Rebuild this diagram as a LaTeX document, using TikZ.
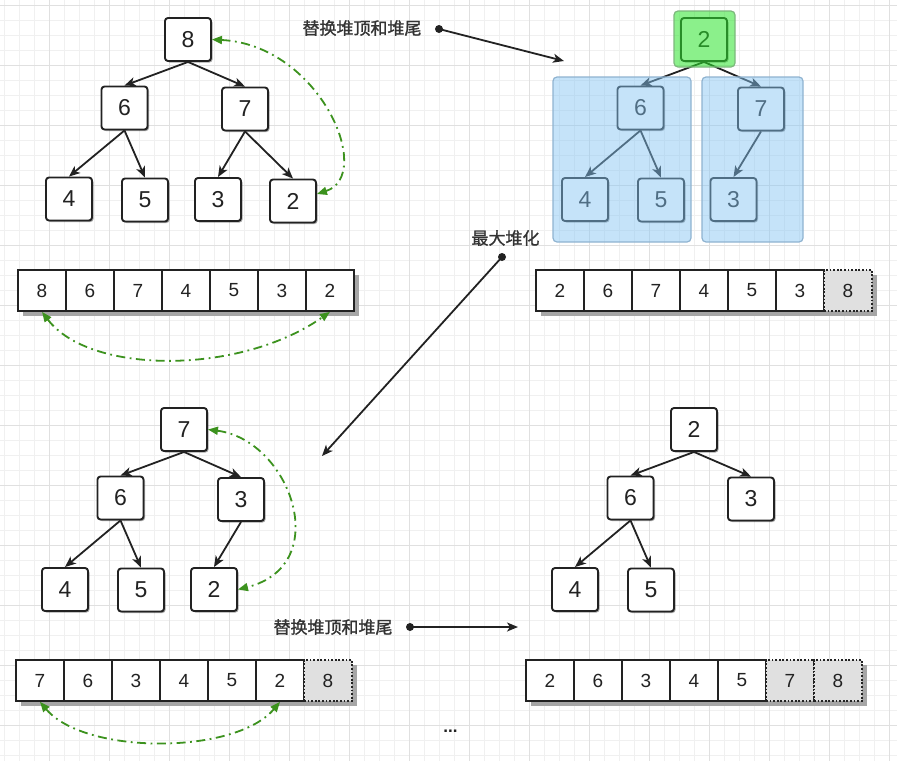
\documentclass[tikz,border=0pt]{standalone}
\usepackage{fontspec}
\setmainfont{Liberation Sans}
\newfontfamily\cjk[AutoFakeBold=1.2]{Noto Sans CJK SC}
\usetikzlibrary{shadows,arrows.meta}
\definecolor{ink}{HTML}{222222}
\definecolor{lblink}{HTML}{333333}
\definecolor{gline}{HTML}{3C921E}
\definecolor{minorgrid}{HTML}{F0F0F0}
\definecolor{majorgrid}{HTML}{E0E0E0}
\definecolor{cellgray}{HTML}{E0E0E0}
\definecolor{shadowgray}{HTML}{A6A6A6}
\definecolor{blueov}{RGB}{133,197,244}
\definecolor{blueedge}{HTML}{8FB3D0}
\definecolor{greenov}{RGB}{45,228,45}
\definecolor{greenedge}{HTML}{7DB87D}
\begin{document}
\begin{tikzpicture}[x=1pt,y=-1pt,
 tnode/.style={rectangle, rounded corners=3pt, draw=ink, line width=1.9pt, fill=white,
   minimum width=46pt, minimum height=43pt, inner sep=0pt, text=ink,
   font=\fontsize{23}{26}\selectfont,
   drop shadow={shadow xshift=1.5pt, shadow yshift=-1.5pt, opacity=0.35, fill=black}},
 acell/.style={rectangle, draw=ink, line width=1.8pt, fill=white, minimum width=48pt,
   minimum height=41pt, inner sep=0pt, text=ink, font=\fontsize{19}{22}\selectfont},
 gcell/.style={acell, fill=cellgray, dash pattern=on 1.8pt off 1.8pt},
 edge/.style={draw=ink, line width=1.8pt, -{Stealth[length=11pt,width=9pt,inset=3pt]}},
 swap/.style={draw=gline, line width=1.8pt, dash pattern=on 9pt off 4.5pt on 1.8pt off 4.5pt,
   {Triangle[length=10pt,width=8pt]}-{Triangle[length=10pt,width=8pt]}},
 lbl/.style={text=lblink, font=\cjk\bfseries\fontsize{17}{20}\selectfont, inner sep=0pt},
 dot/.style={circle, fill=ink, minimum size=8pt, inner sep=0pt},
 shad/.style={fill=shadowgray},
 ]
\useasboundingbox (0,0) rectangle (897,761);
\fill[white] (0,0) rectangle (897,761);
% grid
\foreach \x in {4,19,...,897} \draw[minorgrid, line width=1pt] (\x,0) -- (\x,761);
\foreach \y in {5,20,...,761} \draw[minorgrid, line width=1pt] (0,\y) -- (897,\y);
\foreach \x in {49,109,...,897} \draw[majorgrid, line width=1pt] (\x,0) -- (\x,761);
\foreach \y in {5,65,...,761} \draw[majorgrid, line width=1pt] (0,\y) -- (897,\y);

% ---------- top-left tree ----------
\node[tnode] (n8) at (188,39.5) {8};
\node[tnode] (n6) at (124.5,108) {6};
\node[tnode] (n7) at (245,109) {7};
\node[tnode] (n4) at (69,199) {4};
\node[tnode] (n5) at (145,200) {5};
\node[tnode] (n3) at (218,199.5) {3};
\node[tnode] (n2) at (293,201) {2};
\draw[edge] (n8.south) -- (n6.north);
\draw[edge] (n8.south) -- (n7.north);
\draw[edge] (n6.south) -- (n4.north);
\draw[edge] (n6.south) -- (n5.north);
\draw[edge] (n7.south) -- (n3.north);
\draw[edge] (n7.south) -- (n2.north);
\draw[swap] (n8.east) .. controls (320,45) and (375,175) .. ([yshift=7pt]n2.east);

% top-left array
\fill[shad] (23,275) rectangle (359,316);
\foreach \v [count=\i] in {8,6,7,4,5,3,2}
  \node[acell] (A\i) at ({42+48*(\i-1)},290.5) {\v};
\draw[swap] (A1.south) .. controls (90,375) and (240,375) .. (A7.south);

% ---------- top-right tree ----------
\node[tnode] (m2) at (704,39.5) {2};
\node[tnode] (m6) at (640.5,108) {6};
\node[tnode] (m7) at (761,109) {7};
\node[tnode] (m4) at (585,199.5) {4};
\node[tnode] (m5) at (661,200) {5};
\node[tnode] (m3) at (733.5,199.5) {3};
\draw[edge] (m2.south) -- (m6.north);
\draw[edge] (m2.south) -- (m7.north);
\draw[edge] (m6.south) -- (m4.north);
\draw[edge] (m6.south) -- (m5.north);
\draw[edge] (m7.south) -- (m3.north);
\filldraw[fill=blueov, fill opacity=0.47, draw=blueedge, line width=1.2pt, rounded corners=4pt]
  (553,77) rectangle (691,242);
\filldraw[fill=blueov, fill opacity=0.47, draw=blueedge, line width=1.2pt, rounded corners=4pt]
  (702,77) rectangle (803,242);
\filldraw[fill=greenov, fill opacity=0.55, draw=greenedge, line width=1.2pt, rounded corners=4pt]
  (674,11) rectangle (735,67);

% top-right array
\fill[shad] (541,275) rectangle (877,316);
\foreach \v [count=\i] in {2,6,7,4,5,3}
  \node[acell] (B\i) at ({560+48*(\i-1)},290.5) {\v};
\node[gcell] (B7) at (848,290.5) {8};

% ---------- bottom-left tree ----------
\node[tnode] (b7) at (184,429.5) {7};
\node[tnode] (b6) at (120.5,498) {6};
\node[tnode] (b3) at (241,499.5) {3};
\node[tnode] (b4) at (65,589.5) {4};
\node[tnode] (b5) at (141,590) {5};
\node[tnode] (b2) at (214,589.5) {2};
\draw[edge] (b7.south) -- (b6.north);
\draw[edge] (b7.south) -- (b3.north);
\draw[edge] (b6.south) -- (b4.north);
\draw[edge] (b6.south) -- (b5.north);
\draw[edge] (b3.south) -- (b2.north);
\draw[swap] (b7.east) .. controls (290,440) and (335,565) .. (b2.east);

% bottom-left array
\fill[shad] (21,665) rectangle (357,706);
\foreach \v [count=\i] in {7,6,3,4,5,2}
  \node[acell] (C\i) at ({40+48*(\i-1)},680.5) {\v};
\node[gcell] (C7) at (328,680.5) {8};
\draw[swap] (C1.south) .. controls (85,755) and (235,755) .. (C6.south);

% ---------- bottom-right tree ----------
\node[tnode] (c2) at (694,429.5) {2};
\node[tnode] (c6) at (630.5,498) {6};
\node[tnode] (c3) at (751,499) {3};
\node[tnode] (c4) at (575,589.5) {4};
\node[tnode] (c5) at (651,590) {5};
\draw[edge] (c2.south) -- (c6.north);
\draw[edge] (c2.south) -- (c3.north);
\draw[edge] (c6.south) -- (c4.north);
\draw[edge] (c6.south) -- (c5.north);

% bottom-right array
\fill[shad] (531,665) rectangle (867,706);
\foreach \v [count=\i] in {2,6,3,4,5}
  \node[acell] (D\i) at ({550+48*(\i-1)},680.5) {\v};
\node[gcell] (D6) at (790,680.5) {7};
\node[gcell] (D7) at (838,680.5) {8};

% ---------- labels and connectors ----------
\node[lbl] (L1) at (362,28) {替换堆顶和堆尾};
\node[dot] (P1) at (439,29) {};
\coordinate (E1) at (564,61);
\draw[edge] (P1.center) -- (E1);

\node[lbl] (L2) at (505.5,238) {最大堆化};
\node[dot] (P2) at (502,257) {};
\coordinate (E2) at (322,456);
\draw[edge] (P2.center) -- (E2);

\node[lbl] (L3) at (333,627) {替换堆顶和堆尾};
\node[dot] (P3) at (410,627) {};
\coordinate (E3) at (518,627);
\draw[edge] (P3.center) -- (E3);

\node[text=ink, font=\bfseries\fontsize{17}{18}\selectfont, inner sep=0pt] (dots) at (450.5,731) {...};
\end{tikzpicture}
\end{document}
